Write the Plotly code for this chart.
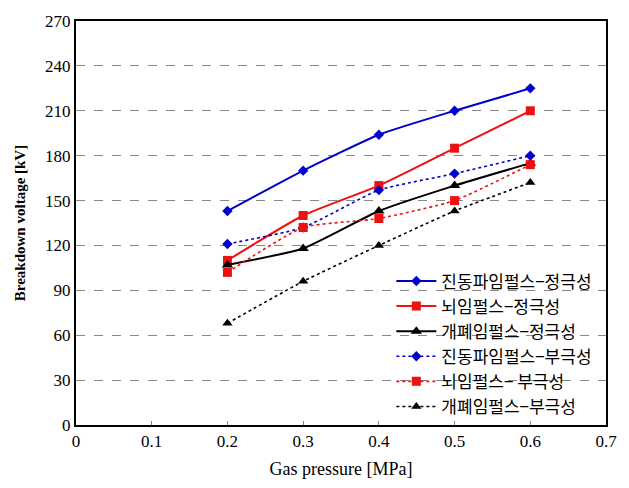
import plotly.graph_objects as go

pressure = [0.2, 0.3, 0.4, 0.5, 0.6]
names = ["진동파임펄스−정극성", "뇌임펄스−정극성", "개폐임펄스−정극성",
         "진동파임펄스−부극성", "뇌임펄스− 부극성", "개폐임펄스−부극성"]
osc_pos = [143, 170, 194, 210, 225]
light_pos = [110, 140, 160, 185, 210]
sw_pos = [107, 118, 143, 160, 175]
osc_neg = [121, 132, 157, 168, 180]
light_neg = [102, 132, 138, 150, 174]
sw_neg = [68, 96, 120, 143, 162]

series = [osc_pos, light_pos, sw_pos, osc_neg, light_neg, sw_neg]
colors = ["#0000CC", "#EE1111", "#000000", "#0000CC", "#EE1111", "#000000"]
symbols = ["diamond", "square", "triangle-up", "diamond", "square", "triangle-up"]
dashes = ["solid", "solid", "solid", "dot", "dot", "dot"]
msizes = [8, 9, 10, 8, 9, 9]

fig = go.Figure()
for nm, ys, c, s, d, ms in zip(names, series, colors, symbols, dashes, msizes):
    fig.add_trace(go.Scatter(
        x=pressure, y=ys, name=nm, mode="lines+markers",
        line=dict(color=c, width=2 if d == "solid" else 1.6, dash=d, shape="spline", smoothing=0.5),
        marker=dict(color=c, symbol=s, size=ms),
    ))

serif = "Liberation Serif, DejaVu Serif, Noto Sans CJK KR, serif"
fig.update_layout(
    width=629, height=488,
    margin=dict(l=76, r=20, t=19, b=63),
    paper_bgcolor="white", plot_bgcolor="white",
    font=dict(family=serif, size=15, color="black"),
    showlegend=True,
    legend=dict(x=0.595, y=0.40, xanchor="left", yanchor="top",
                bgcolor="rgba(255,255,255,0)", borderwidth=0,
                font=dict(family="Noto Sans CJK KR, sans-serif", size=17, color="black"),
                tracegroupgap=0, itemwidth=40),
    xaxis=dict(range=[0, 0.7], dtick=0.1, tickformat=".1f",
               showline=True, linecolor="black", linewidth=2, mirror=True,
               showgrid=False, zeroline=False,
               ticks="inside", ticklen=4, tickcolor="gray",
               tickfont=dict(family=serif, size=17),
               title=dict(text="Gas pressure [MPa]", font=dict(family=serif, size=18), standoff=12)),
    yaxis=dict(range=[0, 270], dtick=30,
               showline=True, linecolor="black", linewidth=2, mirror=True,
               showgrid=True, gridcolor="#888888", griddash="dash", gridwidth=1,
               zeroline=False, ticks="",
               tickfont=dict(family=serif, size=17),
               title=dict(text="<b>Breakdown voltage [kV]</b>", font=dict(family=serif, size=15), standoff=16)),
)
fig.update_xaxes(tickvals=[0, 0.1, 0.2, 0.3, 0.4, 0.5, 0.6, 0.7],
                 ticktext=["0", "0.1", "0.2", "0.3", "0.4", "0.5", "0.6", "0.7"])
fig.write_html("out.html")
